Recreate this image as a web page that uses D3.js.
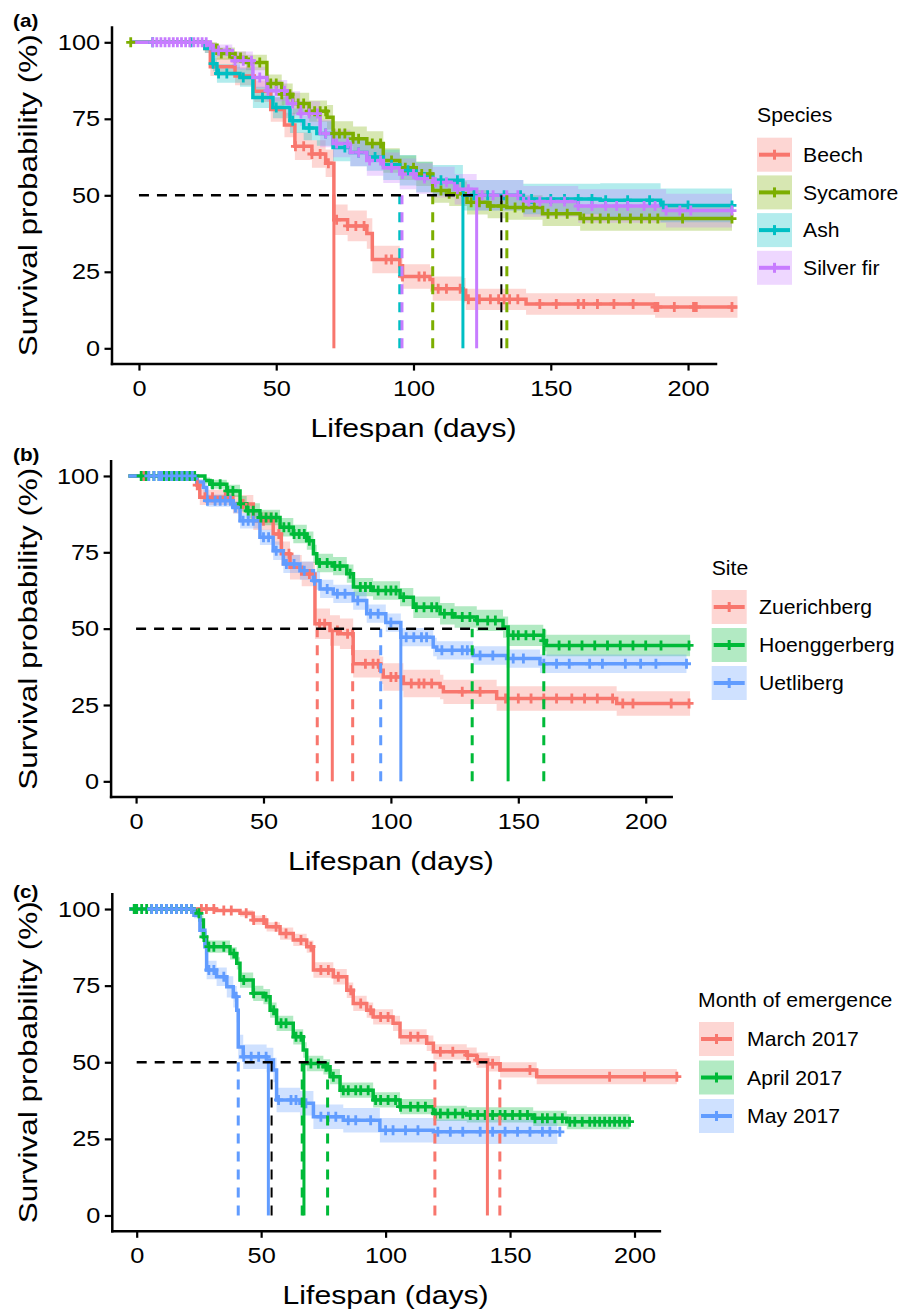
<!DOCTYPE html>
<html lang="en">
<head>
<meta charset="UTF-8">
<script src="https://d3js.org/d3.v7.min.js"></script>
<title>Seedling survival</title>
<style>
  body { margin: 0; background: #fff; }
  svg text { font-family: "Liberation Sans", Arial, sans-serif; fill: #000; }
</style>
</head>
<body>
<svg id="chart" width="901" height="1316"></svg>
<script>
// ---------- (a) species ----------
const speciesNames = ["Beech", "Sycamore", "Ash", "Silver fir"];

const beechT = [-3, 24, 26, 35, 42, 48, 53, 56.8, 63, 68, 71, 76, 83, 85, 95, 96, 106, 107, 118, 119, 141, 188];
const beechS = [100, 98, 92, 89, 84, 78, 73, 66, 63.5, 60.5, 42, 40, 37.5, 29, 27, 23.5, 22.5, 19.5, 19, 16, 14.5, 13.5];
const beechCI = [0, 1.5, 3, 3, 3.5, 4, 4, 4.5, 4.5, 4.5, 5, 5, 5, 4.5, 4.5, 4, 4, 4, 4, 3.5, 3.5, 3.5];
const beechEnd = 218;
const beechCens = [57, 60, 63, 66, 69, 72, 76, 79, 82, 90, 92, 96, 102, 104, 109, 112, 117, 120, 124, 128, 131, 133, 135, 138, 146, 152, 160, 162, 167, 173, 180, 188, 189, 195, 202, 203, 216];

const sycT = [-3, 25, 28.4, 35, 39, 46.6, 52, 56, 62, 68.5, 70.7, 78, 83, 89, 95, 101, 107, 113, 119.5, 127, 134, 147, 160.7];
const sycS = [100, 99, 96.3, 95, 93.4, 86.5, 83, 80, 77.5, 75.5, 70.2, 68.5, 66.9, 61.4, 59, 57, 51.6, 50.5, 47.7, 46.5, 46, 44, 42.4];
const sycCI = [0, 1, 2, 2, 2.5, 3, 3.5, 3.5, 3.5, 4, 4, 4, 4, 4, 4, 4, 4, 4, 4, 4, 4, 4, 4];
const sycEnd = 216;
const sycCens = [-3, 30, 33, 35, 37, 40, 44, 48, 50, 52, 55, 58, 60, 62, 64, 66, 68, 71, 73, 75, 78, 80, 85, 88, 92, 97, 100, 103, 106, 110, 113, 116, 121, 124, 128, 132, 137, 140, 144, 149, 152, 156, 162, 165, 168, 171, 175, 179, 183, 186, 189, 198, 216];

const ashT = [-3, 24, 27, 28.4, 36.8, 41.5, 48.8, 55, 60, 64.8, 70.7, 77, 83, 89, 95, 101, 107, 118, 140, 168, 190];
const ashS = [100, 98, 93, 89.8, 88.5, 82, 78.7, 74.4, 72, 70.2, 65.6, 64, 62.5, 60, 58.2, 56, 54.9, 50, 48.8, 48.4, 46.7];
const ashCI = [0, 1.5, 2.5, 3, 3, 3.5, 3.5, 4, 4, 4, 4.5, 4.5, 4.5, 5, 5, 5, 5, 5, 5, 5.5, 5.5];
const ashEnd = 216;
const ashCens = [5, 19, 27, 29, 32, 38, 45, 50, 56, 62, 68, 75, 80, 86, 92, 98, 104, 110, 116, 122, 127, 133, 139, 143, 150, 155, 160, 165, 170, 178, 186, 191, 200, 216];

const firT = [-3, 26, 27, 34, 41.5, 46.6, 54, 58.7, 66, 70.7, 77, 83, 89, 95, 101, 107, 115, 123, 140, 160, 192];
const firS = [100, 99, 97.3, 94, 88.5, 84.2, 80, 76.7, 70.2, 66.9, 64, 61.4, 59, 57, 55.5, 54.3, 52, 50, 48, 46.5, 45];
const firCI = [0, 1, 2, 3, 3.5, 3.5, 4, 4, 4.5, 4.5, 4.5, 5, 5, 5, 5, 5, 5, 5, 5, 5.5, 5.5];
const firEnd = 216;
const firCens = [5, 6.5, 8, 9.5, 11, 12.5, 14, 15.5, 17, 18.5, 20, 21.5, 23, 24.5, 26, 29, 32, 35, 38, 41, 44, 47, 50, 53, 56, 59, 62, 65, 68, 72, 76, 80, 84, 88, 92, 96, 100, 104, 108, 112, 116, 120, 125, 129, 134, 138, 142, 146, 150, 155, 160, 165, 170, 174, 178, 184, 188, 192, 197, 201, 216];

const medianA = [71, 95, 95.8, 107, 118, 123, 132, 134];
const medianAGroup = [0, 2, 3, 1, 2, 3, -1, 1];
const medianAType = ["solid", "dashed", "dashed", "dashed", "solid", "solid", "dashed", "dashed"];

// ---------- (b) site ----------
const siteNames = ["Zuerichberg", "Hoenggerberg", "Uetliberg"];

const zueT = [-3, 24, 25, 38, 46, 53.8, 57, 60.4, 65, 70.2, 76.1, 80, 85.2, 95.7, 97, 104.9, 119.3, 120.6, 141.5, 188.6];
const zueS = [100, 97, 93, 90.8, 85.3, 81, 74.5, 70.1, 67.9, 51.6, 49.4, 48.3, 38.5, 36.4, 34.2, 32, 30.9, 29.3, 27.1, 25.5];
const zueCI = [0, 1.5, 2.5, 3, 3, 3.5, 4, 4, 4, 5, 5, 5, 4.5, 4.5, 4.5, 4.5, 4, 4, 4, 4];
const zueEnd = 217.4;
const zueCens = [3, 24, 27, 30, 35, 42, 50, 56, 60, 68, 72, 74, 79, 83, 90, 93, 95, 100, 102, 108, 111, 113, 116, 128, 135, 145, 150, 155, 160, 165, 171, 176, 181, 187, 191, 195, 210, 217];

const hoeT = [-3, 27, 29, 35.6, 40.8, 43.4, 48.6, 56.5, 61.7, 67, 69.6, 70.9, 77.3, 82.7, 85.3, 93, 103.6, 108.8, 119.3, 125, 133.7, 144, 146, 159.8, 161];
const hoeS = [100, 98.5, 97.3, 95.1, 90.9, 88.6, 86.4, 83.2, 81, 78.8, 74.5, 71.5, 70.5, 68, 63.6, 62.5, 60.3, 57, 54.9, 53.8, 52.7, 50.5, 47.8, 46.1, 44.5];
const hoeCI = [0, 1, 1.5, 2, 2.5, 2.5, 2.5, 3, 3, 3, 3, 3, 3, 3, 3, 3, 3, 3.5, 3.5, 3.5, 3.5, 3.5, 3.5, 3.5, 3.5];
const hoeEnd = 217.4;
const hoeCens = [2, 4, 7, 9, 11, 13, 15, 17, 19, 21, 23, 30, 33, 36, 38, 41, 44, 46, 49, 51, 53, 55, 58, 60, 62, 64, 66, 68, 72, 75, 78, 80, 84, 88, 90, 92, 95, 98, 100, 102, 105, 110, 113, 116, 118, 121, 124, 128, 131, 134, 138, 141, 148, 150, 153, 156, 160, 166, 170, 175, 180, 185, 190, 195, 200, 206, 217];

const uetT = [-3, 23.8, 26.4, 27.7, 38.1, 40.8, 48.6, 53.8, 57.8, 64.3, 69.6, 72.2, 77.4, 85.2, 90.5, 98, 103.9, 116.6, 118, 132.3, 145.4, 158.5];
const uetS = [100, 98, 96.2, 91.9, 89.7, 85.3, 79.9, 75.5, 71.2, 69, 65.7, 63, 61.4, 59.2, 54.9, 52, 47.2, 44, 42.9, 41.2, 40.2, 38.5];
const uetCI = [0, 1, 1.5, 2, 2, 2.5, 2.5, 3, 3, 3, 3, 3, 3, 3, 3, 3, 3, 3, 3, 3, 3, 3];
const uetEnd = 216;
const uetCens = [5, 7, 9, 10, 12, 14, 16, 18, 20, 22, 28, 31, 33, 35, 37, 39, 42, 44, 46, 50, 52, 55, 59, 62, 66, 70, 75, 79, 82, 87, 92, 95, 100, 106, 109, 112, 114, 120, 124, 128, 130, 135, 140, 148, 152, 160, 165, 170, 178, 183, 192, 198, 204, 216];

const medianB = [71.1, 77, 85, 96, 103.9, 131.9, 146, 160];
const medianBGroup = [0, 0, 0, 2, 2, 1, 1, 1];
const medianBType = ["dashed", "solid", "dashed", "dashed", "solid", "dashed", "solid", "dashed"];

// ---------- (c) month of emergence ----------
const monthNames = ["March 2017", "April 2017", "May 2017"];

const marT = [-3, 32, 41.5, 46.8, 52.2, 57.6, 62.9, 68.3, 71, 79, 84.4, 87, 92.4, 95, 103, 105.8, 116.5, 119.2, 132.6, 136.6, 141, 146, 160.7];
const marS = [100, 99.5, 98.6, 96.4, 94.2, 92, 89.9, 87.7, 80.1, 77.9, 73.5, 69.2, 67, 64.8, 62.7, 58.3, 56.2, 53.4, 52.3, 50.7, 49.5, 47.5, 45.3];
const marCI = [0, 0.5, 1, 1.5, 1.5, 2, 2, 2, 2.5, 2.5, 2.5, 2.5, 2.5, 2.5, 2.5, 2.5, 2.5, 2.5, 2.5, 2.5, 2.5, 2.5, 2.5];
const marEnd = 217;
const marCens = [26, 28, 31, 35, 38, 44, 47, 51, 56, 60, 66, 70, 74, 77, 81, 86, 90, 94, 98, 101, 110, 113, 122, 127, 133, 137, 143, 158, 190, 204, 217];

const aprT = [-3, 22.7, 24.1, 25.4, 26.8, 28.1, 37.5, 40.2, 41.5, 46.8, 50.9, 53.6, 56.2, 62.9, 66.9, 68.3, 75, 77.7, 81.7, 95, 105.8, 119.2, 132.6, 159.3, 172.8];
const aprS = [100, 99.5, 98.6, 96.4, 90.9, 87.7, 85.5, 82.3, 76.8, 72.5, 71.4, 67, 62.7, 58.3, 54, 49.6, 48.5, 45.3, 40.9, 37.7, 35.5, 33.3, 32.8, 31.7, 30.6];
const aprCI = [0, 0.5, 1, 1.5, 2, 2, 2, 2, 2.5, 2.5, 2.5, 2.5, 2.5, 2.5, 2.5, 2.5, 2.5, 2.5, 2.5, 2.5, 2.5, 2.5, 2.5, 2.5, 2.5];
const aprEnd = 198;
const aprCens = [-1, 0, 2, 4, 6, 8, 10, 12, 14, 16, 18, 20, 22, 25, 27, 29, 31, 35, 39, 43, 47, 52, 55, 58, 60, 64, 66, 70, 73, 76, 79, 83, 85, 88, 90, 93, 96, 98, 101, 104, 106, 110, 113, 116, 120, 122, 125, 128, 131, 134, 137, 140, 143, 146, 148, 151, 154, 157, 160, 163, 165, 168, 171, 174, 176, 179, 182, 184, 186, 188, 190, 192, 194, 196, 198];

const mayT = [-3, 23, 25.4, 27.4, 28.1, 32.1, 36.2, 38.8, 40.2, 40.8, 42.8, 52.2, 54.9, 56.2, 65.6, 71, 83, 97.7, 119.2];
const mayS = [100, 98, 93.1, 87.7, 80.1, 77.9, 74.6, 71.4, 67, 55, 51.8, 50.7, 47.5, 37.7, 36.6, 32.2, 31.1, 27.8, 27.3];
const mayCI = [0, 1, 2, 2.5, 3, 3, 3.5, 3.5, 4, 4, 4, 4, 4, 4, 4, 4, 4, 4, 4];
const mayEnd = 169;
const mayCens = [6, 8, 10, 12, 14, 16, 18, 20, 22, 29, 31, 35, 40, 43, 46, 49, 52, 57, 62, 64, 68, 74, 77, 80, 85, 88, 94, 100, 103, 108, 113, 121, 126, 131, 138, 143, 148, 153, 158, 163, 166, 170];

const medianC = [40.8, 52.9, 54.2, 66.5, 67.2, 76.7, 119.8, 140.9, 145.9];
const medianCGroup = [2, 2, -1, 1, 1, 1, 0, 0, 0];
const medianCType = ["dashed", "solid", "dashed", "dashed", "solid", "dashed", "dashed", "solid", "dashed"];

const yTicks = [0, 25, 50, 75, 100];
const xTicks = [0, 50, 100, 150, 200];
const hue4 = ["#F8766D", "#7CAE00", "#00BFC4", "#C77CFF"];
const hue3 = ["#F8766D", "#00BA38", "#619CFF"];

const panels = [
  { tag: "(a)", title: "Species", names: speciesNames, colors: hue4,
    curves: [
      {t: beechT, s: beechS, ci: beechCI, end: beechEnd, cens: beechCens},
      {t: sycT, s: sycS, ci: sycCI, end: sycEnd, cens: sycCens},
      {t: ashT, s: ashS, ci: ashCI, end: ashEnd, cens: ashCens},
      {t: firT, s: firS, ci: firCI, end: firEnd, cens: firCens}],
    med: medianA, medGroup: medianAGroup, medType: medianAType,
    xRange: [111.5, 715.5], yRange: [363.6, 27], tagY: 27,
    legX: 757, legTitleY: 122, keyTop: 137.7, keyStep: 37.7, labelX: 803 },
  { tag: "(b)", title: "Site", names: siteNames, colors: hue3,
    curves: [
      {t: zueT, s: zueS, ci: zueCI, end: zueEnd, cens: zueCens},
      {t: hoeT, s: hoeS, ci: hoeCI, end: hoeEnd, cens: hoeCens},
      {t: uetT, s: uetS, ci: uetCI, end: uetEnd, cens: uetCens}],
    med: medianB, medGroup: medianBGroup, medType: medianBType,
    xRange: [110.6, 671.2], yRange: [796.6, 460.7], tagY: 461,
    legX: 711.7, legTitleY: 575, keyTop: 590, keyStep: 38, labelX: 759 },
  { tag: "(c)", title: "Month of emergence", names: monthNames, colors: hue3,
    curves: [
      {t: marT, s: marS, ci: marCI, end: marEnd, cens: marCens},
      {t: aprT, s: aprS, ci: aprCI, end: aprEnd, cens: aprCens},
      {t: mayT, s: mayS, ci: mayCI, end: mayEnd, cens: mayCens}],
    med: medianC, medGroup: medianCGroup, medType: medianCType,
    xRange: [111.8, 659.4], yRange: [1230.8, 893.7], tagY: 898,
    legX: 698, keyX: 699, legTitleY: 1007, keyTop: 1022, keyStep: 38.5, labelX: 747 }
];

const svg = d3.select("#chart");

function label(g, x, y, str, size, sx, anchor, weight) {
  return g.append("text")
    .attr("transform", `translate(${x},${y}) scale(${sx},1)`)
    .attr("text-anchor", anchor || "start")
    .style("font-size", size + "px")
    .style("font-weight", weight || "normal")
    .text(str);
}

function survAt(c, t) {
  let s = c.s[0];
  c.t.forEach((ti, i) => { if (ti <= t) s = c.s[i]; });
  return s;
}

function drawPanel(p) {
  const x = d3.scaleLinear().domain([-10, 210]).range(p.xRange);
  const y = d3.scaleLinear().domain([-5, 105]).range(p.yRange);
  const g = svg.append("g");

  // axes
  const yAxis = d3.axisLeft(y).tickValues(yTicks).tickSize(7).tickSizeOuter(0).tickPadding(3);
  const xAxis = d3.axisBottom(x).tickValues(xTicks).tickSize(7).tickSizeOuter(0).tickPadding(9.4);
  [[yAxis, `translate(${p.xRange[0]},0)`], [xAxis, `translate(0,${p.yRange[0]})`]].forEach(([ax, tr]) => {
    const a = g.append("g").attr("transform", tr).call(ax)
      .attr("font-size", null).attr("font-family", null);
    a.select(".domain").attr("stroke", "#000").attr("stroke-width", 2.5).attr("stroke-linecap", "square");
    a.selectAll(".tick line").attr("stroke", "#000").attr("stroke-width", 2.2);
    a.selectAll(".tick text").style("font-size", "22px").attr("transform", "scale(1.15,1)");
  });

  const midX = (p.xRange[0] + p.xRange[1]) / 2;
  g.append("text").attr("x", midX).attr("y", p.yRange[0] + 73.5)
    .attr("text-anchor", "middle").style("font-size", "25px")
    .attr("textLength", 206).attr("lengthAdjust", "spacingAndGlyphs")
    .text("Lifespan (days)");
  g.append("text").attr("transform", `translate(36.7,${y(50)}) rotate(-90)`)
    .attr("text-anchor", "middle").style("font-size", "25px")
    .attr("textLength", 322).attr("lengthAdjust", "spacingAndGlyphs")
    .text("Survival probability (%)");
  label(g, 13, p.tagY, p.tag, 18, 1.15, "start", "bold");

  // curves
  const series = p.curves.map((c, i) => {
    const pts = c.t.map((t, j) => ({t: t, s: c.s[j], ci: c.ci[j]}));
    pts.push({t: c.end, s: c.s[c.s.length - 1], ci: c.ci[c.ci.length - 1]});
    return {pts: pts, c: c, color: p.colors[i]};
  });
  const band = d3.area().curve(d3.curveStepAfter)
    .x(d => x(d.t))
    .y0(d => y(Math.max(0, d.s - d.ci)))
    .y1(d => y(Math.min(100, d.s + d.ci)));
  const line = d3.line().curve(d3.curveStepAfter).x(d => x(d.t)).y(d => y(d.s));

  g.append("g").selectAll("path").data(series).join("path")
    .attr("d", d => band(d.pts)).attr("fill", d => d.color).attr("fill-opacity", 0.3);
  g.append("g").selectAll("path").data(series).join("path")
    .attr("d", d => line(d.pts)).attr("fill", "none")
    .attr("stroke", d => d.color).attr("stroke-width", 3.5);
  g.append("g").selectAll("path").data(series).join("path")
    .attr("d", d => d.c.cens.map(t => {
      const cx = x(t), cy = y(survAt(d.c, t));
      return `M${cx - 4.5},${cy}H${cx + 4.5}M${cx},${cy - 5}V${cy + 5}`;
    }).join(""))
    .attr("fill", "none").attr("stroke", d => d.color).attr("stroke-width", 2.8);

  // median lines
  const med = p.med.map((t, i) => ({t: t, grp: p.medGroup[i], type: p.medType[i]}));
  g.append("g").selectAll("line").data(med).join("line")
    .attr("x1", d => x(d.t)).attr("x2", d => x(d.t))
    .attr("y1", y(0)).attr("y2", y(50))
    .attr("stroke", d => d.grp < 0 ? "#000" : p.colors[d.grp])
    .attr("stroke-width", d => d.grp < 0 ? 2 : 3)
    .attr("stroke-dasharray", d => d.type === "dashed" ? "10,8" : null);
  g.append("line")
    .attr("x1", x(0)).attr("x2", x(d3.max(p.med.filter((t, i) => p.medType[i] === "solid"))))
    .attr("y1", y(50)).attr("y2", y(50))
    .attr("stroke", "#000").attr("stroke-width", 2.5).attr("stroke-dasharray", "10,8");

  // legend
  const kx = p.keyX || p.legX;
  label(g, p.legX, p.legTitleY, p.title, 20, 1.06);
  p.names.forEach((nm, i) => {
    const top = p.keyTop + i * p.keyStep, cy = top + 17, col = p.colors[i];
    g.append("rect").attr("x", kx).attr("y", top).attr("width", 35).attr("height", 34)
      .attr("fill", col).attr("fill-opacity", 0.3);
    g.append("line").attr("x1", kx + 2).attr("x2", kx + 33).attr("y1", cy).attr("y2", cy)
      .attr("stroke", col).attr("stroke-width", 4);
    g.append("line").attr("x1", kx + 17.5).attr("x2", kx + 17.5).attr("y1", cy - 5).attr("y2", cy + 5)
      .attr("stroke", col).attr("stroke-width", 3);
    label(g, p.labelX, cy + 7.2, nm, 20, 1.06);
  });
}

panels.forEach(drawPanel);
</script>
</body>
</html>
